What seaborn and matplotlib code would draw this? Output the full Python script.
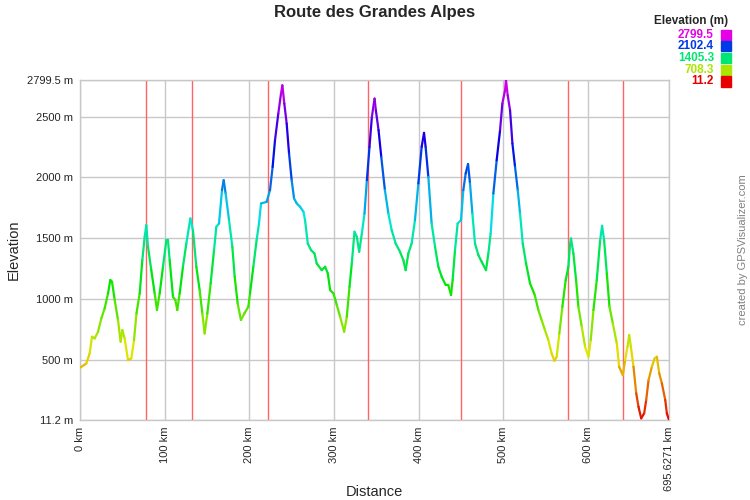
import colorsys
import numpy as np
import pandas as pd
import seaborn as sns
from matplotlib import pyplot as plt
from matplotlib.patches import Rectangle

# profile (km, m)
km = [0, 7.5, 11.4, 14.2, 17.3, 21.3, 25.2, 29.1, 33.1, 35.8,
      37.8, 41.0, 44.9, 48.0, 50.0, 52.7, 56.7, 60.6, 63.8, 66.7,
      70.5, 73.6, 76.4, 78.3, 80.3, 84.2, 88.2, 90.9, 94.1, 98.0,
      102.0, 103.9, 105.9, 109.8, 112.6, 114.9, 117.7, 121.6, 125.6, 130.3,
      133.4, 137.4, 141.3, 144.5, 147.2, 150.4, 154.3, 158.3, 161.0, 164.2,
      167.7, 169.7, 172.0, 176.0, 179.9, 182.7, 186.2,
      190.1, 194.1, 198.8, 200.8, 204.7, 208.6, 211.4, 213.8, 220.4, 224.4,
      227.5, 230.3, 234.2, 237.4, 239.0, 241.3, 244.1, 246.9, 250.0, 252.8,
      256.0, 259.9, 263.9, 265.8, 269.0, 272.9, 276.9, 279.6, 285.5, 289.5,
      292.7, 295.4, 299.4, 303.3, 307.2, 312.0, 315.1, 318.3, 321.0, 324.2,
      326.9, 329.7, 332.9, 336.0, 338.8, 341.9, 344.7, 347.9, 349.4, 352.6,
      355.8, 360.1,
      364.2, 368.1, 372.8, 377.9, 381.9, 384.6, 387.8, 391.7, 395.6, 399.6,
      403.5, 406.3, 408.2, 411.4, 415.3, 419.3, 423.2, 427.2, 431.9, 435.0,
      438.2, 440.1, 442.9, 446.0, 450.0, 452.7, 455.5, 458.3, 460.6, 463.4,
      466.5, 470.5, 474.4, 479.5, 482.3, 485.0, 488.2, 492.1, 496.1, 498.8,
      502.0, 503.1, 505.1, 507.9, 510.7, 513.8, 517.0, 519.7, 522.9, 526.8,
      531.5, 537.1,
      541.3, 545.2, 549.1, 553.1, 557.0, 560.2, 563.0, 566.1, 569.7, 573.6,
      576.8, 578.8, 579.9, 582.7, 585.9, 588.6, 592.6, 596.5, 600.5, 603.2,
      606.4, 610.3, 614.3, 616.6, 619.0, 622.2, 625.3, 629.3, 634.0, 636.7,
      641.1, 643.8, 646.6, 648.6, 650.6, 653.7, 656.9, 659.6, 662.8, 666.3,
      668.7, 671.5, 675.4, 678.6, 681.3, 684.1, 687.2, 691.2, 693.1, 695.6271]

elev = [440, 475, 557, 694, 680, 735, 844, 926, 1049, 1159,
        1145, 995, 830, 653, 749, 680, 503, 516, 667, 885,
        1049, 1322, 1514, 1609, 1432, 1240, 1049, 913, 1049, 1268,
        1486, 1486, 1322, 1022, 995, 913, 1049, 1268, 1459, 1664,
        1568, 1268, 1077, 885, 721, 885, 1131, 1404, 1596, 1623,
        1896, 1978, 1869, 1650, 1432, 1186, 967,
        831, 885, 940, 1049, 1268, 1486, 1623, 1787, 1800, 1896,
        2087, 2305, 2524, 2688, 2756, 2606, 2442, 2196, 1978, 1828,
        1787, 1760, 1719, 1650, 1459, 1404, 1377, 1295, 1240, 1268,
        1213, 1076, 1049, 954, 858, 735, 858, 1104, 1295, 1555,
        1514, 1391, 1541, 1705, 1978, 2251, 2497, 2647, 2552, 2388,
        2169, 1896,
        1705, 1568, 1459, 1391, 1322, 1240, 1377, 1459, 1650, 1951,
        2251, 2366, 2251, 2005, 1623, 1432, 1268, 1186, 1118, 1118,
        1036, 1159, 1404, 1623, 1650, 1896, 2033, 2110, 1951, 1705,
        1459, 1363, 1309, 1240, 1377, 1541, 1869, 2142, 2388, 2606,
        2715, 2799.5, 2674, 2552, 2279, 2087, 1896, 1705, 1459, 1295,
        1131, 1036,
        913, 831, 749, 667, 557, 497, 530, 721, 940, 1158,
        1268, 1459, 1500, 1377, 1158, 940, 776, 612, 530, 667,
        913, 1158, 1486, 1604, 1486, 1213, 940, 803, 639, 448,
        380, 503, 612, 708, 612, 448, 230, 120, 25, 66,
        175, 339, 448, 516, 530, 394, 312, 175, 66, 11.2]

# red day markers
stages = [77.9, 132.2, 222.0, 340.0, 449.8, 576.0, 641.0]

y_ticks = [11.2, 500, 1000, 1500, 2000, 2500, 2799.5]
y_labels = ['11.2 m', '500 m', '1000 m', '1500 m', '2000 m', '2500 m', '2799.5 m']
x_ticks = [0, 100, 200, 300, 400, 500, 600, 695.6271]
x_labels = ['0 km', '100 km', '200 km', '300 km', '400 km', '500 km', '600 km', '695.6271 km']
legend_vals = [2799.5, 2102.4, 1405.3, 708.3, 11.2]

E_MIN, E_MAX = 11.2, 2799.5


def elev_color(e):
    f = (e - E_MIN) / (E_MAX - E_MIN)
    return colorsys.hsv_to_rgb(f * 300 / 360, 1.0, 0.9)


assert len(km) == len(elev)

sns.set_style("white")
plt.rcParams['font.family'] = ['Liberation Sans', 'DejaVu Sans']

# one two-point line per segment so each gets its own colour
rows = []
for i in range(len(km) - 1):
    rows.append((km[i], elev[i], i))
    rows.append((km[i + 1], elev[i + 1], i))
df = pd.DataFrame(rows, columns=['km', 'elev', 'seg'])
palette = {i: elev_color((elev[i] + elev[i + 1]) / 2) for i in range(len(km) - 1)}

fig = plt.figure(figsize=(7.5, 5), dpi=100)
ax = fig.add_axes([80 / 750, 80 / 500, 589 / 750, 340 / 500])

for d in stages:
    ax.axvline(d, color='#ff6464', lw=1, zorder=1.5)

sns.lineplot(data=df, x='km', y='elev', hue='seg', palette=palette, legend=False,
             sort=False, estimator=None, lw=1.6, solid_capstyle='round', ax=ax, zorder=3)

ax.set_xlim(0, 695.6271)
ax.set_ylim(E_MIN, E_MAX)
ax.set_xticks(x_ticks)
ax.set_xticklabels(x_labels, rotation=90, fontsize=8)
ax.set_yticks(y_ticks)
ax.set_yticklabels(y_labels, fontsize=8)
ax.tick_params(length=0, pad=5)
ax.grid(True, color='#c8c8c8', lw=1)
ax.set_axisbelow(True)
for s in ax.spines.values():
    s.set_color('#c8c8c8')
    s.set_linewidth(1)
ax.set_xlabel('')
ax.set_ylabel('')

fig.text(0.5, 1 - 13 / 500, 'Route des Grandes Alpes', ha='center', va='center',
         fontsize=12, weight='bold')
fig.text(14 / 750, 250 / 500, 'Elevation', rotation=90, ha='center', va='center', fontsize=10.5)
fig.text(374 / 750, 1 - 492 / 500, 'Distance', ha='center', va='center', fontsize=10.5)
fig.text(743 / 750, 250 / 500, 'created by GPSVisualizer.com', rotation=90, ha='center',
         va='center', fontsize=8, color='#808080')

# colour legend
fig.text(728 / 750, 1 - 21 / 500, 'Elevation (m)', ha='right', va='center', fontsize=8.5, weight='bold')
for j, v in enumerate(legend_vals):
    yc = 34.7 + j * 11.7
    c = elev_color(v)
    fig.text(714 / 750, 1 - yc / 500, f'{v:.1f}', ha='right', va='center', fontsize=8.5,
             weight='bold', color=c)
    fig.patches.append(Rectangle((721 / 750, 1 - (yc + 5) / 500), 10 / 750, 10 / 500,
                                 transform=fig.transFigure, color=c, figure=fig))

fig.savefig('out.png', dpi=100)
